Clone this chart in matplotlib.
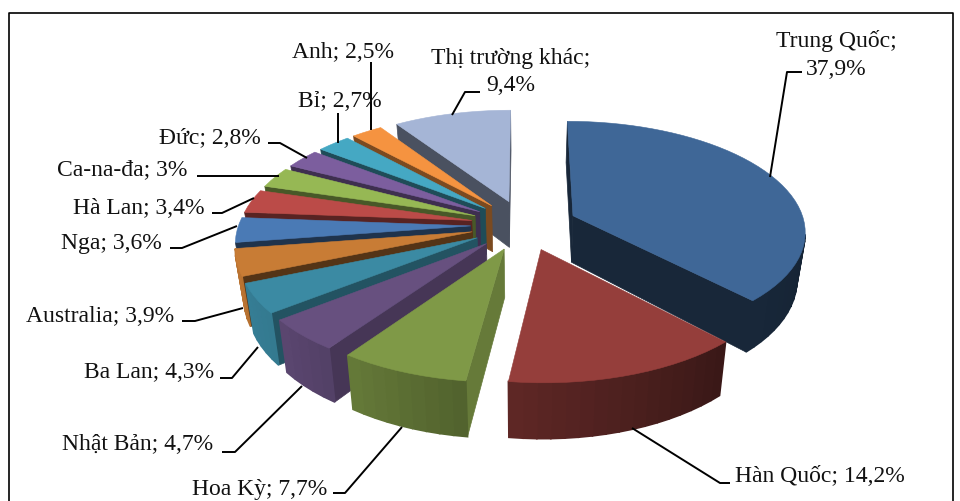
import numpy as np
import matplotlib
matplotlib.use("Agg")
import matplotlib.pyplot as plt

# data, clockwise from 12 o'clock
names = ["Trung Quốc", "Hàn Quốc", "Hoa Kỳ", "Nhật Bản", "Ba Lan", "Australia", "Nga",
         "Hà Lan", "Ca-na-đa", "Đức", "Bỉ", "Anh", "Thị trường khác"]
shares = [37.9, 14.2, 7.7, 4.7, 4.3, 3.9, 3.6, 3.4, 3.0, 2.8, 2.7, 2.5, 9.4]
labels = ["Trung Quốc;\n37,9%", "Hàn Quốc; 14,2%", "Hoa Kỳ; 7,7%", "Nhật Bản; 4,7%", "Ba Lan; 4,3%",
          "Australia; 3,9%", "Nga; 3,6%", "Hà Lan; 3,4%", "Ca-na-đa; 3%", "Đức; 2,8%", "Bỉ; 2,7%",
          "Anh; 2,5%", "Thị trường khác;\n9,4%"]

top_colors = ["#3f6797", "#953e3b", "#7f9947", "#67507f", "#3b8aa3", "#c87c35", "#4a7ab5",
              "#bb4b48", "#96b854", "#7c5e9e", "#45a8c3", "#f59340", "#a5b5d6"]
wall_shade = [0.38, 0.4, 0.8, 0.68, 0.6, 0.42, 0.42, 0.47, 0.48, 0.5, 0.45, 0.5, 0.45]

# text position (centre y in px), leader line in px
label_pos = [(836, 55, "center"), (735, 477, "left"), (192, 490, "left"), (62, 445, "left"),
             (84, 373, "left"), (26, 317, "left"), (61, 243, "left"), (73, 208, "left"),
             (57, 170, "left"), (159, 138, "left"), (298, 101, "left"), (292, 52, "left"),
             (511, 72, "center")]
leaders = [[(802, 72), (787, 72), (770, 177)],
           [(730, 483), (720, 483), (632, 428)],
           [(333, 493), (345, 493), (402, 427)],
           [(222, 452), (235, 452), (302, 386)],
           [(220, 378), (232, 378), (258, 347)],
           [(182, 321), (195, 321), (243, 308)],
           [(170, 248), (182, 248), (237, 226)],
           [(212, 213), (222, 213), (254, 198)],
           [(197, 176), (279, 176)],
           [(268, 143), (280, 143), (307, 158)],
           [(338, 113), (338, 143)],
           [(371, 62), (371, 130)],
           [(480, 92), (465, 92), (452, 115)]]

# perspective of the pie, all in px
cx, cy = 524, 225
rx, ry = 232, 109
persp = 0.13
depth = 47
explode = 0.23


def top_pt(x, y):
    w = 1 + persp * y
    return cx + rx * x / w, cy - ry * y / w


def bot_pt(x, y):
    w = 1 + persp * y
    return cx + 0.97 * rx * x / w, cy - ry * y / w + depth / w


def outer_shade(deg):
    return np.interp(deg, [90, 136, 188, 215, 232, 270], [0.33, 0.38, 0.64, 0.8, 0.88, 0.95])


def darker(col, f):
    rgb = np.array(matplotlib.colors.to_rgb(col)) * f
    return tuple(np.clip(rgb, 0, 1))


fig = plt.figure(figsize=(9.6, 5.01), dpi=100)
ax = fig.add_axes([0, 0, 1, 1])
ax.set_xlim(0, 960)
ax.set_ylim(501, 0)
ax.axis("off")

edges = np.concatenate([[0], np.cumsum(shares)]) / sum(shares) * 360
order = [0, 12, 11, 10, 9, 8, 7, 6, 5, 4, 3, 2, 1]  # back to front

for i in order:
    a0, a1 = edges[i], edges[i + 1]
    mid = np.radians((a0 + a1) / 2)
    ax0, ay0 = explode * np.sin(mid), explode * np.cos(mid)
    degs = np.linspace(a0, a1, max(int((a1 - a0) / 3), 3) + 1)
    xs = ax0 + np.sin(np.radians(degs))
    ys = ay0 + np.cos(np.radians(degs))
    tx, ty = top_pt(xs, ys)
    bx, by = bot_pt(xs, ys)
    atx, aty = top_pt(ax0, ay0)
    abx, aby = bot_pt(ax0, ay0)
    side = darker(top_colors[i], wall_shade[i])

    # radial walls facing the viewer
    if tx[0] < atx:
        ax.fill([atx, tx[0], bx[0], abx], [aty, ty[0], by[0], aby], color=side, lw=0.5, zorder=2)
    if atx < tx[-1]:
        ax.fill([tx[-1], atx, abx, bx[-1]], [ty[-1], aty, aby, by[-1]], color=side, lw=0.5, zorder=2)
    # outer wall, one quad per step so the shade runs along the arc
    for k in range(len(degs) - 1):
        if tx[k + 1] < tx[k]:
            c = darker(top_colors[i], outer_shade((degs[k] + degs[k + 1]) / 2))
            ax.fill([tx[k], tx[k + 1], bx[k + 1], bx[k]], [ty[k], ty[k + 1], by[k + 1], by[k]],
                    color=c, lw=1.2, zorder=2)
    ax.fill(np.r_[atx, tx], np.r_[aty, ty], color=top_colors[i], lw=0.4, zorder=2)

for line in leaders:
    pts = np.array(line)
    ax.plot(pts[:, 0], pts[:, 1], color="black", lw=1.4, zorder=3, solid_capstyle="butt")

for lab, (x, y, ha) in zip(labels, label_pos):
    ax.text(x, y, lab, ha=ha, va="center", fontsize=17, family="Liberation Serif",
            color="#111111", linespacing=1.4, zorder=4)

# chart frame, cut off at the bottom
ax.plot([8.5, 8.5, 952.5, 952.5], [501, 12.5, 12.5, 501], color="black", lw=1.2, zorder=5)

fig.savefig("out.png", dpi=100)
